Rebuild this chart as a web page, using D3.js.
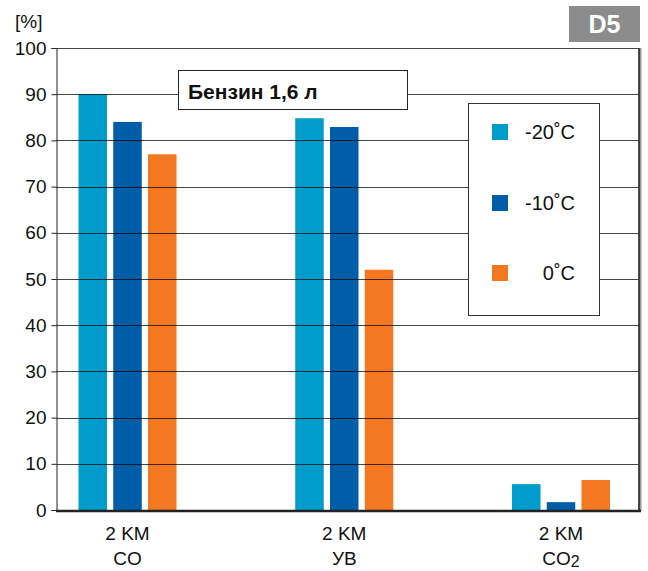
<!DOCTYPE html>
<html><head><meta charset="utf-8">
<script src="https://cdn.jsdelivr.net/npm/d3@7"></script>
<style>body{margin:0;background:#fff}svg{display:block;font-family:"Liberation Sans",Arial,sans-serif}</style>
</head><body>
<script>
const categories = ["CO", "УВ", "CO2"];
const catLine1 = ["2 KM", "2 KM", "2 KM"];
const seriesNames = ["-20˚C", "-10˚C", "0˚C"];
const seriesColors = ["#009ccc", "#005ea8", "#f47721"];
const valMinus20 = [90, 84.8, 5.6];
const valMinus10 = [84, 82.9, 1.7];
const valZero = [77, 52, 6.5];
const yTicks = [0,10,20,30,40,50,60,70,80,90,100];
const title = "Бензин 1,6 л";
const badge = "D5";

(function(){
const W = 648, H = 571;
const svg = d3.select("body").append("svg").attr("width", W).attr("height", H);
const pL = 56, pR = 640, pT = 48, pB = 510;

const y = d3.scaleLinear().domain([0, 100]).range([pB, pT]);
const x = d3.scalePoint().domain(categories).range([127.5, 561]);
const xs = d3.scaleBand().domain(seriesNames).range([-49, 49]).paddingInner(0.18);

const series = [valMinus20, valMinus10, valZero];

series.forEach((vals, si) => {
  svg.append("g").selectAll("rect").data(vals).join("rect")
    .attr("x", (d, i) => x(categories[i]) + xs(seriesNames[si]))
    .attr("width", xs.bandwidth())
    .attr("y", d => y(d))
    .attr("height", d => y(0) - y(d))
    .attr("fill", seriesColors[si]);
});

svg.append("g").selectAll("line").data(yTicks.filter(t => t > 0)).join("line")
  .attr("x1", pL).attr("x2", pR)
  .attr("y1", d => Math.round(y(d)) + 0.5).attr("y2", d => Math.round(y(d)) + 0.5)
  .attr("stroke", "rgba(0,0,0,0.72)").attr("stroke-width", 1);

const yAxis = d3.axisLeft(y).tickValues(yTicks).tickSize(5).tickPadding(5);
const ga = svg.append("g").attr("transform", `translate(${pL + 0.5},0)`).call(yAxis);
ga.select(".domain").attr("stroke", "#222");
ga.selectAll(".tick line").attr("stroke", "#222");
ga.selectAll(".tick text").attr("font-size", 19).attr("fill", "#111")
  .attr("font-family", "'Liberation Sans',Arial,sans-serif");

svg.append("line").attr("x1", pR).attr("x2", pR).attr("y1", pT).attr("y2", pB + 1)
  .attr("stroke", "#999").attr("stroke-width", 3);
svg.append("line").attr("x1", pR - 1).attr("x2", pR - 1).attr("y1", pT).attr("y2", pB)
  .attr("stroke", "#222").attr("stroke-width", 1.5);
svg.append("line").attr("x1", pL).attr("x2", pR + 1).attr("y1", pB + 1).attr("y2", pB + 1)
  .attr("stroke", "#222").attr("stroke-width", 2.5);

svg.append("text").attr("x", 15).attr("y", 28).attr("font-size", 19).attr("fill", "#111").text("[%]");

const xl = svg.append("g").selectAll("g").data(categories).join("g")
  .attr("transform", d => `translate(${x(d)},0)`);
xl.append("text").attr("y", 540).attr("text-anchor", "middle").attr("font-size", 19).attr("fill", "#111")
  .text((d, i) => catLine1[i]);
xl.each(function(d) {
  const t = d3.select(this).append("text").attr("y", 565).attr("text-anchor", "middle")
    .attr("font-size", 19).attr("fill", "#111");
  if (d === "CO2") {
    t.append("tspan").text("CO");
    t.append("tspan").attr("font-size", 16).attr("dy", 1.5).text("2");
  } else t.text(d);
});

svg.append("rect").attr("x", 178.5).attr("y", 70.5).attr("width", 229).attr("height", 39)
  .attr("fill", "#fff").attr("stroke", "#222").attr("stroke-width", 1);
svg.append("text").attr("x", 188).attr("y", 99).attr("font-size", 21).attr("font-weight", "bold")
  .attr("fill", "#111").text(title);

svg.append("rect").attr("x", 468.5).attr("y", 103.5).attr("width", 131).attr("height", 212)
  .attr("fill", "#fff").attr("stroke", "#333").attr("stroke-width", 1);
const lg = svg.append("g").selectAll("g").data(seriesNames).join("g")
  .attr("transform", (d, i) => `translate(0,${[132, 203, 273][i]})`);
lg.append("rect").attr("x", 492).attr("y", -8).attr("width", 16).attr("height", 16)
  .attr("fill", (d, i) => seriesColors[i]);
lg.append("text").attr("x", 575).attr("y", 7).attr("text-anchor", "end").attr("font-size", 20)
  .attr("fill", "#111").text(d => d);

svg.append("rect").attr("x", 569).attr("y", 6).attr("width", 71).attr("height", 36).attr("fill", "#8c8c8c");
svg.append("text").attr("x", 604.5).attr("y", 33).attr("text-anchor", "middle").attr("font-size", 25)
  .attr("font-weight", "bold").attr("fill", "#fff").text(badge);
})();
</script>
</body></html>
